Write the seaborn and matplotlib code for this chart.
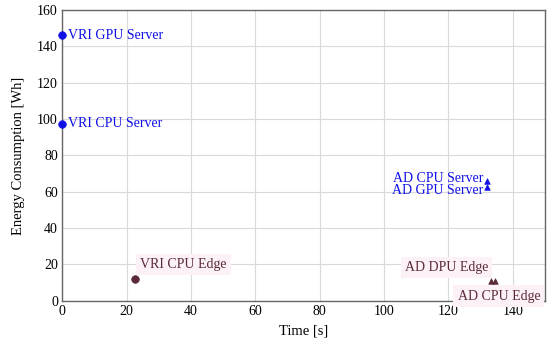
import matplotlib
matplotlib.use("Agg")
import matplotlib.pyplot as plt
import seaborn as sns
import pandas as pd

labels = ["VRI GPU Server", "VRI CPU Server", "VRI CPU Edge",
          "AD CPU Server", "AD GPU Server", "AD DPU Edge", "AD CPU Edge"]
times = [0.0, 0.0, 22.5, 132.0, 132.0, 133.2, 134.5]
energy = [146.0, 97.5, 11.8, 66.0, 62.5, 10.8, 10.8]
groups = ["VRI Server", "VRI Server", "VRI Edge",
          "AD Server", "AD Server", "AD Edge", "AD Edge"]

df = pd.DataFrame({"label": labels, "time": times, "energy": energy, "group": groups})

sns.set_theme(style="whitegrid")
plt.rcParams['font.family'] = ['Liberation Serif', 'DejaVu Serif']

blue = "#1010e6"
maroon = "#5a2a38"
palette = {"VRI Server": blue, "VRI Edge": maroon, "AD Server": blue, "AD Edge": maroon}
markers = {"VRI Server": "o", "VRI Edge": "o", "AD Server": "^", "AD Edge": "^"}
sizes = {"VRI Server": 30, "VRI Edge": 30, "AD Server": 16, "AD Edge": 16}

fig = plt.figure(figsize=(5.5, 3.45), dpi=100)
ax = fig.add_axes([0.113, 0.128, 0.878, 0.843])

for g, sub in df.groupby("group"):
    sns.scatterplot(data=sub, x="time", y="energy", color=palette[g], marker=markers[g],
                    s=sizes[g], edgecolor=palette[g], linewidth=0.5, ax=ax, legend=False,
                    zorder=5, clip_on=False)

pink = dict(boxstyle="square,pad=0.3", facecolor="#fdf1f8", edgecolor="none")
ann = {
    "VRI GPU Server": ((4, 0), "left", "center", blue, None),
    "VRI CPU Server": ((4, 0), "left", "center", blue, None),
    "VRI CPU Edge": ((4, 6), "left", "bottom", maroon, pink),
    "AD CPU Server": ((-3, 2), "right", "center", blue, None),
    "AD GPU Server": ((-3, -2), "right", "center", blue, None),
    "AD DPU Edge": ((-2, 5), "right", "bottom", maroon, pink),
    "AD CPU Edge": ((-27, -6), "left", "top", maroon, pink),
}
for lab, t, e in zip(labels, times, energy):
    off, ha, va, col, bb = ann[lab]
    ax.annotate(lab, (t, e), xytext=off, textcoords="offset points",
                ha=ha, va=va, color=col, fontsize=10, bbox=bb)

ax.set_xlim(0, 150)
ax.set_ylim(0, 160)
ax.set_xticks(range(0, 141, 20))
ax.set_yticks(range(0, 161, 20))
ax.set_xlabel("Time [s]", fontsize=10.5, color="black", labelpad=5)
ax.set_ylabel("Energy Consumption [Wh]", fontsize=10.5, color="black", labelpad=9)
ax.tick_params(labelsize=10, colors="black", length=0, pad=3)
ax.grid(True, color="#d9d9d9", linewidth=0.8)
for s in ax.spines.values():
    s.set_color("#666666")
    s.set_linewidth(1.0)

fig.savefig("out.png", dpi=100)
